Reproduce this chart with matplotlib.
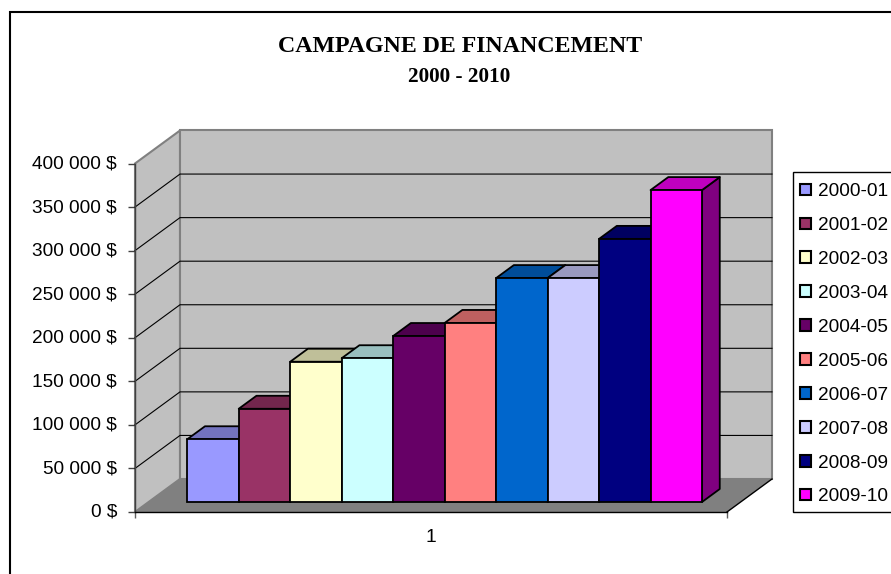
import numpy as np
import matplotlib
matplotlib.use("Agg")
import matplotlib.pyplot as plt
from matplotlib.patches import Patch, Rectangle
from matplotlib.transforms import Affine2D

seasons = ["2000-01", "2001-02", "2002-03", "2003-04", "2004-05",
           "2005-06", "2006-07", "2007-08", "2008-09", "2009-10"]
amounts = [72000, 107000, 161000, 165000, 190500, 205500, 257000, 257000, 302000, 358000]
colors = ["#9999FF", "#993366", "#FFFFCC", "#CCFFFF", "#660066",
          "#FF8080", "#0066CC", "#CCCCFF", "#000080", "#FF00FF"]
yticks = [0, 50000, 100000, 150000, 200000, 250000, 300000, 350000, 400000]
category_labels = ["1"]
title_lines = ["CAMPAGNE DE FINANCEMENT", "2000 - 2010"]

W, H = 891, 574
# oblique depth of the box, in data units (x: one bar width, y: dollars)
X_MAX = 11.5
Y_MAX = 400000
DX = 45 / (592 / X_MAX)
DY = 33 / (348.5 / Y_MAX)
D_FRONT, D_BACK = 10 / 33, 23 / 33


def px(v, total):
    return v / total


def shade(color, f):
    return tuple(f * c for c in matplotlib.colors.to_rgb(color))


def main():
    plt.rcParams["font.family"] = ["Liberation Sans", "DejaVu Sans"]
    fig = plt.figure(figsize=(W / 100, H / 100), dpi=100, facecolor="white")
    ax = fig.add_axes([px(135, W), px(H - 512, H), px(592, W), px(348.5, H)])
    ax.set_xlim(0, X_MAX)
    ax.set_ylim(0, Y_MAX)
    ax.patch.set_visible(False)

    # walls and floor
    wall = "#C0C0C0"
    edge = "#808080"
    ax.fill([0, DX, DX, 0], [0, DY, Y_MAX + DY, Y_MAX], fc=wall, ec=edge, lw=1.5, clip_on=False, zorder=1)
    ax.fill([DX, X_MAX + DX, X_MAX + DX, DX], [DY, DY, Y_MAX + DY, Y_MAX + DY], fc=wall, ec=edge, lw=1.5, clip_on=False, zorder=1)
    ax.fill([0, X_MAX, X_MAX + DX, DX], [0, 0, DY, DY], fc=edge, ec="none", clip_on=False, zorder=2)
    ax.plot([X_MAX, X_MAX + DX], [0, DY], color="black", lw=1, clip_on=False, zorder=2)
    for v in yticks[1:-1]:
        ax.plot([0, DX, X_MAX + DX], [v, v + DY, v + DY], color="black", lw=0.8, clip_on=False, zorder=2)

    # bars, left to right so each one hides the side of the previous
    for i, (val, c) in enumerate(zip(amounts, colors)):
        x0 = 0.75 + i + D_FRONT * DX
        y0 = D_FRONT * DY
        dx = (D_BACK - D_FRONT) * DX
        dy = (D_BACK - D_FRONT) * DY
        z = 3 + i
        ax.fill([x0 + 1, x0 + 1 + dx, x0 + 1 + dx, x0 + 1], [y0, y0 + dy, y0 + dy + val, y0 + val],
                fc=shade(c, 0.5), ec="black", lw=1.3, clip_on=False, zorder=z, joinstyle="round")
        ax.fill([x0, x0 + dx, x0 + 1 + dx, x0 + 1], [y0 + val, y0 + dy + val, y0 + dy + val, y0 + val],
                fc=shade(c, 0.75), ec="black", lw=1.3, clip_on=False, zorder=z, joinstyle="round")
        ax.bar(x0, val, width=1, bottom=y0, align="edge", color=c, edgecolor="black", lw=1.3, clip_on=False, zorder=z)

    # axes
    for s in ["top", "right"]:
        ax.spines[s].set_visible(False)
    ax.spines["left"].set(color="#404040", lw=1, zorder=20)
    ax.spines["bottom"].set(color="black", lw=1, zorder=20)
    ax.set_yticks(yticks)
    ax.set_yticklabels([f"{v:,}".replace(",", " ") + " $" for v in yticks], fontsize=13.7, color="black")
    ax.tick_params(axis="y", length=5, width=1, color="#404040", pad=8)
    for label in ax.get_yticklabels():
        label.set_transform(label.get_transform() + Affine2D().translate(0, 1.5))
    ax.set_xticks([0, X_MAX])
    ax.set_xticklabels(["", ""])
    ax.tick_params(axis="x", length=4, width=1, color="#606060")
    ax.set_xticks([X_MAX / 2], category_labels, minor=True)
    ax.tick_params(axis="x", which="minor", length=0, labelsize=13.7, pad=12)

    # legend box runs off the right side of the picture
    handles = [Patch(fc=c, ec="black", lw=1.5) for c in colors]
    leg = fig.legend(handles, seasons, loc="upper left", bbox_to_anchor=(px(793, W), px(H - 176, H)),
                     bbox_transform=fig.transFigure, fontsize=13.7, frameon=False, borderaxespad=0,
                     borderpad=0.37, labelspacing=0.89, handlelength=0.55, handleheight=0.55, handletextpad=0.38)
    fig.add_artist(Rectangle((793, H - 512), 120, 340, transform=None, fc="white", ec="black", lw=1, zorder=1))
    leg.set_zorder(5)

    # outer frame, cropped on the right and at the bottom
    fig.add_artist(Rectangle((10, -20), 920, H - 12 + 20, transform=None, fc="none", ec="black", lw=1.5, zorder=6))

    fig.text(px(460, W), 1 - px(46, H), title_lines[0], family="Liberation Serif", weight="bold",
             fontsize=17.2, ha="center", va="center")
    fig.text(px(459, W), 1 - px(77, H), title_lines[1], family="Liberation Serif", weight="bold",
             fontsize=15.3, ha="center", va="center")

    fig.savefig("out.png", dpi=100)


if __name__ == "__main__":
    main()
